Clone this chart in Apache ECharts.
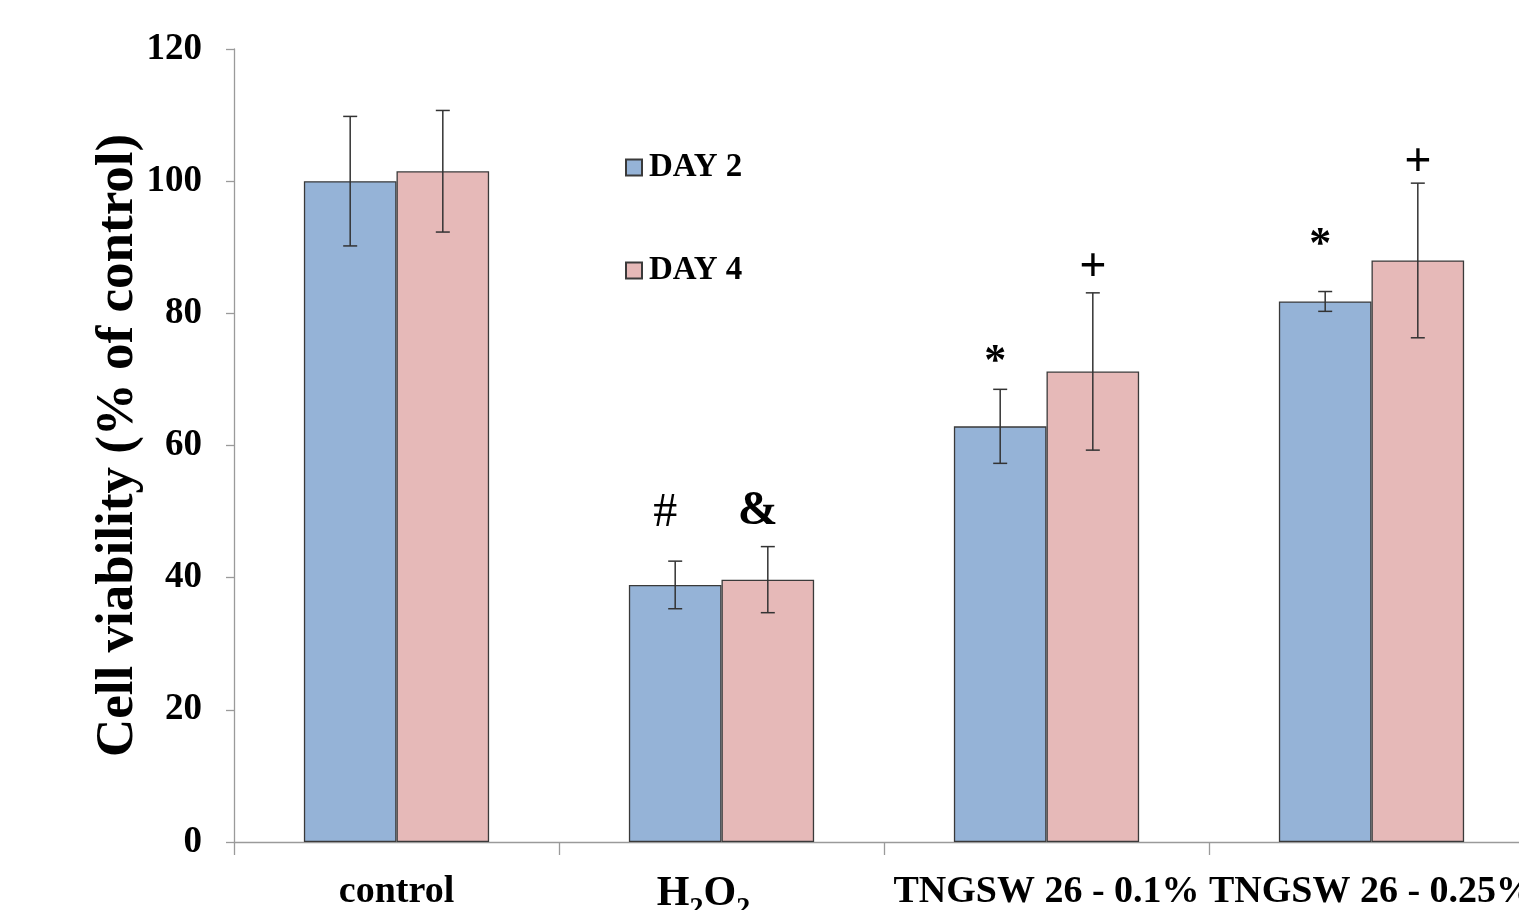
<!DOCTYPE html>
<html>
<head>
<meta charset="utf-8">
<script src="https://cdn.jsdelivr.net/npm/echarts@6/dist/echarts.min.js"></script>
<style>
html,body{margin:0;padding:0;background:#fff;}
#chart{width:1519px;height:910px;}
</style>
</head>
<body>
<div id="chart"></div>
<script>
// ---- data ----
const categories = ['control', 'H2O2', 'TNGSW 26 - 0.1%', 'TNGSW 26 - 0.25%'];
const seriesNames = ['DAY 2', 'DAY 4'];
const day2 = [100.0, 38.9, 62.9, 81.8];
const day4 = [101.5, 39.7, 71.2, 88.0];
const day2Err = [9.8, 3.6, 5.6, 1.5];
const day4Err = [9.2, 5.0, 11.9, 11.7];
// annotations: [categoryIndex, seriesIndex, value position, symbol]
const annotations = [
  [1, 0, 49.8, '#'],
  [1, 1, 50.0, '&'],
  [2, 0, 72.5, '*'],
  [2, 1, 86.7, '+'],
  [3, 0, 90.2, '*'],
  [3, 1, 102.7, '+']
];
const yTicks = {min: 0, max: 120, interval: 20};

const FONT = '"Liberation Serif", "Times New Roman", serif';
const colors = ['#95B3D7', '#E6B9B8'];
const CAT_GAP = 0.43;

const errData = [];
day2.forEach((v, i) => errData.push([i, v - day2Err[i], v + day2Err[i], 0]));
day4.forEach((v, i) => errData.push([i, v - day4Err[i], v + day4Err[i], 1]));

function barOffset(api, sidx) {
  const band = api.size([1, 0])[0];
  const bw = band * (1 - CAT_GAP) / 2;
  return (sidx - 0.5) * bw;
}

const chart = echarts.init(document.getElementById('chart'), null, {renderer: 'canvas'});
chart.setOption({
  animation: false,
  backgroundColor: '#fff',
  grid: {left: 234, top: 49, width: 1300, height: 793, containLabel: false, outerBoundsMode: 'none'},
  legend: {
    orient: 'vertical',
    left: 620,
    top: 146,
    itemWidth: 16,
    itemHeight: 16,
    itemGap: 70,
    icon: 'rect',
    data: seriesNames,
    textStyle: {fontFamily: FONT, fontWeight: 'bold', fontSize: 33, color: '#000', lineHeight: 32, padding: [0, 0, 0, 2]}
  },
  xAxis: {
    type: 'category',
    data: categories,
    axisLine: {lineStyle: {color: '#9a9a9a', width: 1.3}},
    axisTick: {show: true, length: 13, interval: 0, lineStyle: {color: '#9a9a9a', width: 1.3}},
    axisLabel: {
      interval: 0,
      margin: 31,
      fontFamily: FONT, fontWeight: 'bold', fontSize: 38, color: '#000',
      formatter: function (v) {
        if (v === 'H2O2') return '{a|H}{s|2}{a|O}{e|2}';
        return v;
      },
      rich: {
        a: {fontFamily: FONT, fontWeight: 'bold', fontSize: 42, color: '#000', lineHeight: 42, verticalAlign: 'top'},
        s: {fontFamily: FONT, fontWeight: 'bold', fontSize: 28, color: '#000', lineHeight: 28, padding: [22, 0, 0, 0], verticalAlign: 'top'},
        e: {fontFamily: FONT, fontWeight: 'bold', fontSize: 28, color: '#000', lineHeight: 28, padding: [22, 36, 0, 0], verticalAlign: 'top'}
      }
    }
  },
  yAxis: {
    type: 'value',
    min: yTicks.min, max: yTicks.max, interval: yTicks.interval,
    name: 'Cell viability (% of control)',
    nameLocation: 'middle',
    nameGap: 89,
    nameMoveOverlap: false,
    nameRotate: 90,
    nameTextStyle: {fontFamily: FONT, fontWeight: 'bold', fontSize: 53, color: '#000'},
    axisLine: {show: true, lineStyle: {color: '#9a9a9a', width: 1.3}},
    axisTick: {show: true, length: 8, lineStyle: {color: '#9a9a9a', width: 1.3}},
    splitLine: {show: false},
    axisLabel: {margin: 32, fontFamily: FONT, fontWeight: 'bold', fontSize: 37, color: '#000'}
  },
  series: [
    {
      name: seriesNames[0], type: 'bar', data: day2,
      barGap: '0%', barCategoryGap: (CAT_GAP * 100) + '%',
      itemStyle: {color: colors[0], borderColor: '#3a3a3a', borderWidth: 1.3}
    },
    {
      name: seriesNames[1], type: 'bar', data: day4,
      barGap: '0%', barCategoryGap: (CAT_GAP * 100) + '%',
      itemStyle: {color: colors[1], borderColor: '#3a3a3a', borderWidth: 1.3}
    },
    {
      type: 'custom',
      data: errData,
      z: 10,
      silent: true,
      renderItem: function (params, api) {
        const ci = api.value(0), lo = api.value(1), hi = api.value(2), si = api.value(3);
        const pLo = api.coord([ci, lo]);
        const pHi = api.coord([ci, hi]);
        const x = pLo[0] + barOffset(api, si);
        const cap = 7;
        const style = {stroke: '#333', lineWidth: 1.5};
        return {
          type: 'group',
          children: [
            {type: 'line', shape: {x1: x, y1: pLo[1], x2: x, y2: pHi[1]}, style: style},
            {type: 'line', shape: {x1: x - cap, y1: pLo[1], x2: x + cap, y2: pLo[1]}, style: style},
            {type: 'line', shape: {x1: x - cap, y1: pHi[1], x2: x + cap, y2: pHi[1]}, style: style}
          ]
        };
      }
    },
    {
      type: 'custom',
      data: annotations,
      z: 10,
      silent: true,
      renderItem: function (params, api) {
        const a = annotations[params.dataIndex];
        const p = api.coord([a[0], a[2]]);
        const x = p[0] + barOffset(api, a[1]);
        const sym = a[3];
        const bold = (sym !== '#');
        const dx = (sym === '#' || sym === '&') ? -10 : (sym === '*' ? -5 : 0);
        return {
          type: 'text',
          x: x + dx, y: p[1],
          style: {
            text: sym,
            fontFamily: FONT,
            fontWeight: bold ? 'bold' : 'normal',
            fontSize: sym === '*' ? 44 : 48,
            fill: '#000',
            align: 'center',
            verticalAlign: 'middle'
          }
        };
      }
    }
  ]
});
</script>
</body>
</html>
